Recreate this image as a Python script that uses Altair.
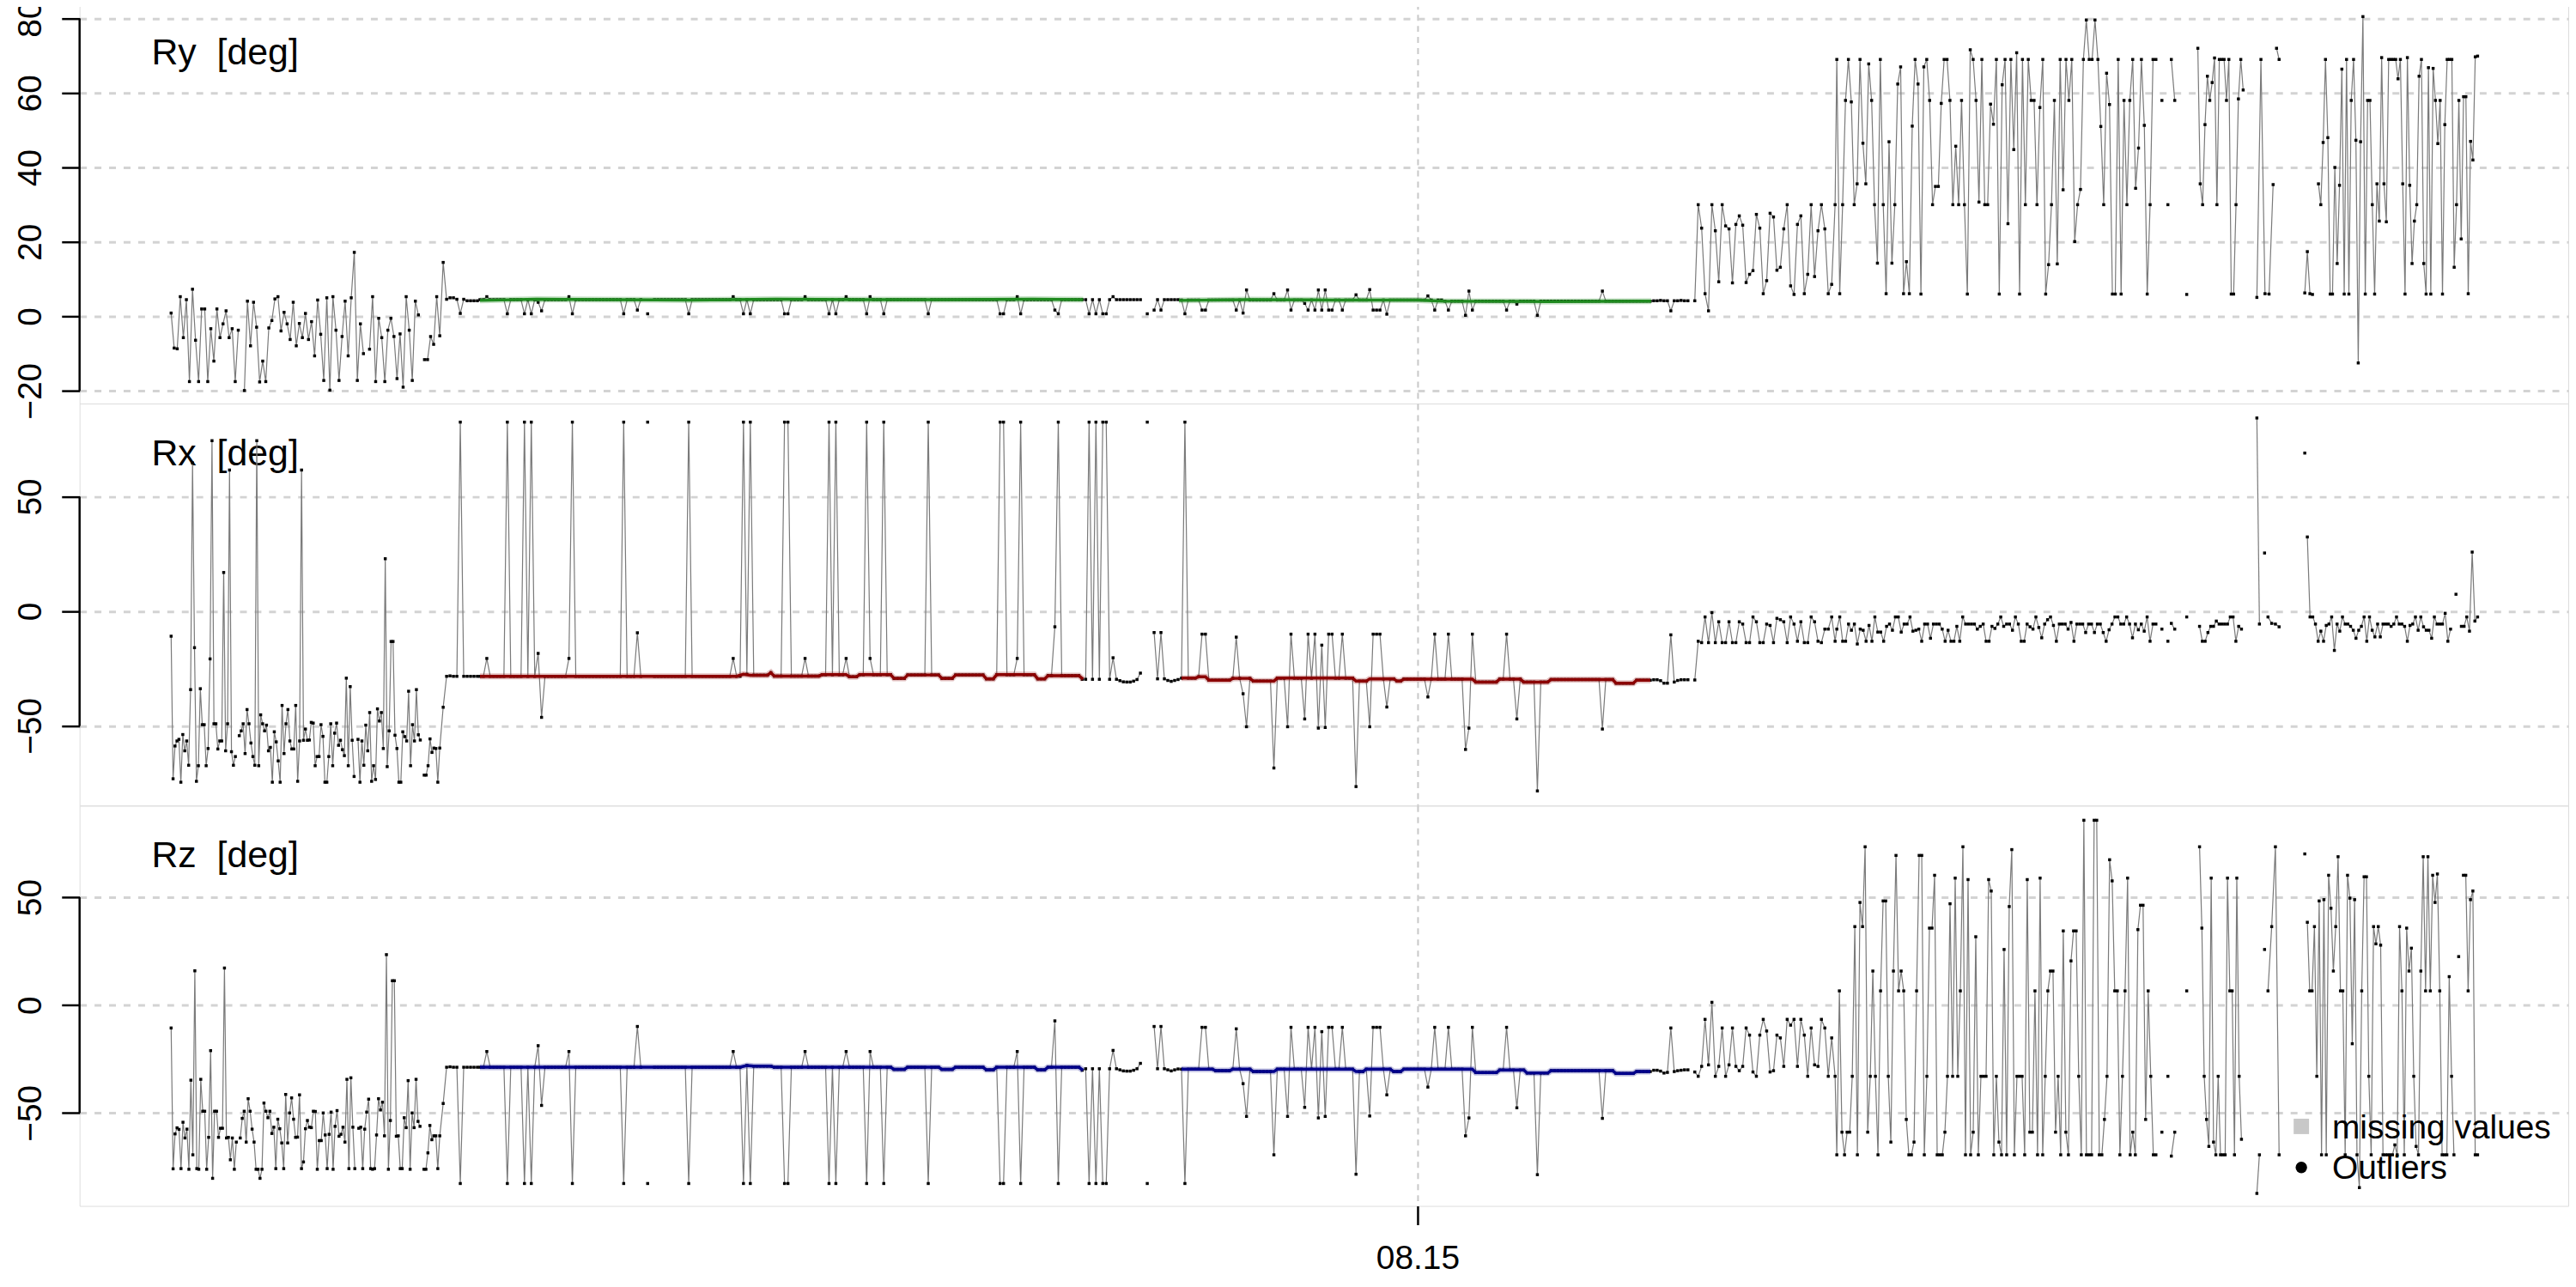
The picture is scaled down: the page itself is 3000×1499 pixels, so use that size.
import altair as alt
import pandas as pd

FONT = "Liberation Sans"
# time axis: seconds relative to 08:15:00
X_DOMAIN = [-1564, 1345]
X_TICKS = [0]
X_TICK_LABEL = "08.15"

PANEL_LABELS = ["Ry\u00a0\u00a0[deg]", "Rx\u00a0\u00a0[deg]", "Rz\u00a0\u00a0[deg]"]
LEGEND_LABELS = ["missing values", "Outliers"]

RY_TICKS = [-20, 0, 20, 40, 60, 80]
RX_TICKS = [-50, 0, 50]
RZ_TICKS = [-50, 0, 50]

BREAK = (0, 0, [None])

# ---------------- Ry ----------------
RY_A = [0.9, -8.5, -8.7, 5.3, -5.7, 4.5, -17.5, 7.3, -6.4, -17.5, 2, 2, -17.5, -3.3, -12, 2, -5.7, -2, 1.5, -5.7,
        -3.3, -17.5, -3.7, None, -19.9, 4.1, -7.9, 3.8, -2.9, -17.6, -12, -17.5, -3.1, -1.1, 4.7, 5.3, -3.9, 1.1, -2, -6.2,
        3.8, -7.9, -1.9, -5.7, 0.8, -6.2, -1.4, -10.6, 4.4, -4.8, -17.2, 5, -19.8, 5.3, -3.7, -17.2, -5.4, 4.1, -10.6, 5,
        17.2, -17.2, -2, -10, None, -8.8, 5.3, -17.5, -0.5, -5.7, -17.5, -3.7, -0.5, -5.4, -16.7, -4.7, -19, 5.3, -3.7, -17.2,
        4.1, 0.4, None, -11.6, -11.6, -5.4, -7.5, 5.3, -5.2]
RY_T = [14.5, 4.6, 5, 5, 4.6, 0.8, 4.6, 4.2, 4.2, 4.2, 4.2]
RY_B = [4.5, 4.5, 5.3, 4.5, 4.5, 4.5, 4.5, 4.5, 0.7, 4.5,
        4.5, 4.5, 4.5, 0.7, 4.5, 0.7, 4.5, 3.8, 1.5, 4.5,
        4.5, 4.5, 4.5, 4.5, 4.5, 4.5, 5.3, 0.7, 4.5, 4.5,
        4.5, 4.5, 4.5, 4.5, 4.5, 4.5, 4.5, 4.5, 4.5, 4.5,
        4.5, 4.5, 0.7, 4.5, 4.5, 4.5, 1.7, 4.5, None, 0.7,
        None, 4.5, 4.5, 4.5, 4.5, 4.5, 4.5, 4.5, 4.5, 4.5,
        4.5, 0.7, 4.5, 4.5, 4.5, 4.5, 4.5, 4.5, 4.5, 4.5,
        4.5, 4.5, 4.5, 4.5, 5.3, 4.5, 4.5, 0.7, 4.5, 0.7,
        4.5, 4.5, 4.5, 4.5, 4.5, 4.5, 4.5, 4.5, 4.5, 0.7,
        0.7, 4.5, 4.5, 4.5, 4.5, 5.3, 4.5, 4.5, 4.5, 4.5,
        4.5, 4.5, 0.7, 4.5, 0.7, 4.5, 4.5, 5.3, 4.5, 4.5,
        4.5, 4.5, 4.5, 0.7, 5.3, 4.5, 4.5, 4.5, 0.7, 4.5,
        4.5, 4.5, 4.5, 4.5, 4.5, 4.5, 4.5, 4.5, 4.5, 4.5,
        4.5, 0.7, 4.5, 4.5, 4.5, 4.5, 4.5, 4.5, 4.5, 4.5,
        4.5, 4.5, 4.5, 4.5, 4.5, 4.5, 4.5, 4.5, 4.5, 4.5,
        4.5, 4.5, 0.7, 0.7, 4.5, 4.5, 4.5, 5.3, 0.7, 4.5,
        4.5, 4.5, 4.5, 4.5, 4.5, 4.5, 4.5, 4.5, 1.7, 0.7,
        4.5, 4.5, 4.5, 4.5, 4.5, 4.5, 4.5]
RY_B2 = [4.5, 0.7, 4.5, 0.7, 4.5, 0.7, 0.7, 4.5, 5.3, 4.5, 4.5, 4.5, 4.5, 4.5, 4.5, 4.5, 4.5, None, 0.7, None,
         1.7, 4.5, 1.7, 4.5, 4.5, 4.5, 4.5, 4.5]
RY_C = [4.4, 0.7, 4.4, 4.4, 4.4, 4.4, 1.7, 1.7, 4.4, 4.4,
        4.4, 4.4, 4.4, 4.4, 4.4, 4.4, 1.7, 4.4, 0.9, 7.1,
        4.4, 4.4, 4.4, 4.4, 4.4, 4.4, 4.4, 6.1, 4.4, 4.4,
        4.4, 7.1, 1.7, 4.4, 4.4, 4.4, 3.5, 1.7, 4.4, 1.7,
        7.1, 1.7, 7.1, 1.7, 1.7, 4.4, 4.4, 1.7, 4.4, 4.4,
        4.4, 5.8, 4.4, 4.4, 4.4, 7.2, 1.7, 1.7, 1.7, 4.4,
        0.6, 4.4, 4.4, 4.4, 4.4, 4.4, 4.4, 4.4, 4.4, 4.4,
        4.4, 4.4, 5.5, 4.4, 1.7, 4.4, 4.4, 4.1, 1.7, 4.1,
        4.1, 4.1, 4.1, 0.3, 6.8, 1.7, 4.1, 4.1, 4.1, 4.1,
        4.1, 4.1, 4.1, 4.1, 4.1, 1.7, 4.1, 4.1, 3.3, 4.1,
        4.1, 4.1, 4.1, 4.1, 0.3, 4.1, 4.1, 4.1, 4.1, 4.1,
        4.1, 4.1, 4.1, 4.1, 4.1, 4.1, 4.1, 4.1, 4.1, 4.1,
        4.1, 4.1, 4.1, 6.8, 4.1, 4.1, 4.1, 4.1, 4.1, 4.1,
        4.1, 4.1, 4.1, 4.1, 4.1, 4.1, 4.1, 4.1]
RY_C2 = [4.2, 4.2, 4.3, 4.2, 4.2, 1.5, 4.2, 4.2, 4.3, 4.2, 4.2, None, 4.2]
RY_D = [30, 23.7, 6.1, 1.5, 30, 23, 9.3, 30, 24.3, 23.5, 9, 24.7, 27, 24.5, 9.1, 11.3, 12.3, 27.4, 23.7, 6.1,
        9.6, 27.7, 26.7, 12.4, 13.2, 23.5, 30, 8.2, 5.9, 24.7, 27, 6.1, 11.3, 30, 10.7, 23, 30, 23.5, 6.1, 8.6, 30]
RY_E1 = [69, 6.1, 30, 58, 69, 57.6, 30, 35.6, 69, 46.5, 35.6, 67.8, 58, 30, 14.3, 69, 30, 6.1, 46.9, 14.3,
         30, 62.4, 67, 6.1, 14.7, 6.1, 51.1, 69, 62.4, 6, 67, 69, 58, 30, 34.9, 34.9, 57.2, 69, 69, 58,
         30, 45.7, 30, 58, 30, 6, 71.6, 69, 58, 30.7, 69, 30, 30, 57, 51.6, 69, 6, 62.2, 69, 24.9,
         69, 44.8, 70.8, 6, 69, 30, 69, 58, 58, 30, 56.1, 69, 6, 13.9, 30, 58, 14.1, 69, 34, 69,
         58, 69, 20.1, 30, 34.1, 69, 79.6, 69, 69, 79.6, 69, 51, 30, 65.3, 56.9, 6, 6, 69, 6, 58,
         30, 58, 69, 34.4, 45.2, 69, 51.3, 6, 30, 69, 69]
RY_E2 = [72, 35.6, 30, 51.5, 64.5, 58, 62.8, 69.4, 30, 69, 69, 69, 58, 69, 6, 6, 30, 58.4, 69, 60.8]
RY_E2B = [5.1, 69, 6.1, 6, 35.4]
RY_E2C = [72, 69]
RY_E3A = [6.3, 17.4, 6.1, 5.9]
RY_E3 = [35.6, 30, 46.7, 69, 48, 6, 6, 40, 14.2, 35.2, 66.4, 6, 69, 6, 58, 69, 47.3, -12.5, 46.9, 80.5,
         6, 58, 58, 30, 6, 35.6, 25.6, 69.5, 35.6, 25.4, 69, 69, 69, 69, 63.8, 69, 35.6, 6, 69.5, 35.2,
         14.2, 25.6, 30, 64.5, 69, 14.2, 6, 66.8, 6, 66.6, 58, 46.4, 58, 6, 51.5, 69, 69, 69, 13.2, 30,
         58, 20.8, 59, 59, 6.1, 47, 42, 69.7, 69.9]

RY_SEGMENTS = [
    (-1457, -1143, RY_A), (-1139, -1099, RY_T), (-1096, -392, RY_B), (-388, -280, RY_B2),
    (-276, 272, RY_C), (276, 324, RY_C2), (328, 488, RY_D), (490, 863, RY_E1), BREAK,
    (870, 870, [58]), BREAK, (877, 877, [30]), BREAK, (881, 885, [69, 58]), BREAK, (899, 899, [5.9]), BREAK,
    (912, 965, RY_E2), BREAK, (981, 1000, RY_E2B), BREAK, (1004, 1007, RY_E2C), BREAK,
    (1037, 1046, RY_E3A), BREAK, (1053, 1239, RY_E3),
]

# ---------------- Rx ----------------
RX_A = [-10.9, -73.1, -58.8, -56.6, -55.9, -74.6, -53.8, -60.9, -56.6, -67.2, -34.2, 64.7, -15.9, -74.2, -67.4, -33.8,
        -49.5, -49.5, -67.4, -59.9, -20.8, 74.4, -49.1, -49.1, -60.1, -56.6, -56.6, 16.9, -60.9, -49.1, 61.6, -61.3,
        -67.2, -63.4, None, -54.3, -52.2, -49.1, -62.1, -42.9, -49.1, -57.5, -63.4, -67.2, 74.4, -67.4, -45.2, -49.1,
        -52.2, -49.7, -60.9, -59.4, -74.6, -52.6, -57, -65.3, -74.6, -41.1, -62.1, -49.1, -42.9, -56.6, -60.1, -60.1,
        -41.1, -74.2, -56.6, 61.6, -56.3, -51.4, -56.3, -56.2, -48.5, -48.8, -67.4, -63.4, -63.4, -49.5, -54.6, -74.6,
        -74.6, -63.4, -49.1, -67.4, -53.2, -48.8, -58.5, -56.3, -60.4, -63, -29.2, -67.4, -32.9, -56.3, -72.1, None,
        -55.9, -74.6, -56.6, -67.2, -49.7, -60.9, -44.2, -74.2, -67.4, -73.4, -42.6, -47.9, -44.2, -59.9, 22.9, -67.8,
        -52.2, -13.2, -13.2, -54.1, -59.9, -74.6, -74.6, -52.6, -54.7, -56.6, -34.9, -67.4, -49.5, -56.6, -34.2, -53.9,
        -56.2, None, -71.5, -71.5, -67.4, -55.7, -61.6, -59.7, -59.9, -74.6, -59.7]
RX_T = [-41.9, -28.4, -28.2, -28.4, -28.4, 82.5, -28.4, -28.4, -28.4, -28.4, -28.4]
RX_B = [-28.4, -28.4, -20.6, -28.4, -28.4, -28.4, -28.4, -28.4, 82.5, -28.4,
        -28.4, -28.4, -28.4, 82.5, -28.4, 82.5, -28.4, -18.4, -46.3, -28.4,
        -28.4, -28.4, -28.4, -28.4, -28.4, -28.4, -20.6, 82.5, -28.4, -28.4,
        -28.4, -28.4, -28.4, -28.4, -28.4, -28.4, -28.4, -28.4, -28.4, -28.4,
        -28.4, -28.4, 82.5, -28.4, -28.4, -28.4, -9.4, -28.4, None, 82.5,
        None, -28.4, -28.4, -28.4, -28.4, -28.4, -28.4, -28.4, -28.4, -28.4,
        -28.4, 82.5, -28.4, -28.4, -28.4, -28.4, -28.4, -28.4, -28.4, -28.4,
        -28.4, -28.4, -28.4, -28.4, -20.6, -28.4, -28.4, 82.5, -27.5, 82.5,
        -27.9, -27.9, -27.9, -27.9, -27.9, -26.8, -28.3, -28.3, -28.3, 82.5,
        82.5, -28.3, -28.3, -28.3, -28.3, -20.6, -28.3, -28.3, -28.3, -28.3,
        -27.7, -27.7, 82.5, -27.7, 82.5, -27.7, -27.7, -20.6, -28.6, -28.6,
        -28.6, -27.7, -27.7, 82.5, -20.6, -27.7, -27.7, -27.7, 82.5, -27.7,
        -27.7, -29.3, -29.3, -29.3, -29.3, -27.8, -27.8, -27.8, -27.8, -27.8,
        -27.8, 82.5, -27.8, -27.8, -27.8, -29.3, -29.3, -29.3, -29.3, -27.8,
        -27.8, -27.8, -27.8, -27.8, -27.8, -27.8, -27.8, -27.8, -29.5, -29.5,
        -29.5, -27.7, 82.5, 82.5, -27.7, -27.7, -27.7, -20.6, 82.5, -27.7,
        -27.7, -27.7, -27.7, -29.5, -29.5, -29.5, -28.1, -28.1, -6.8, 82.5,
        -28.1, -28.1, -28.1, -28.1, -28.1, -28.1, -29.7]
RX_B2 = [-29.7, 82.5, -29.7, 82.5, -29.7, 82.5, 82.5, -29.7, -20.3, -29.7, -30.3, -30.8, -30.9, -30.9, -30.5, -29.8,
         -27, None, 82.5, None, -9.3, -29.5, -9.3, -29.5, -30.2, -30.6, -30.2, -29.8]
RX_C = [-29.2, 82.5, -29.2, -29.2, -29.2, -28.6, -10, -10, -30.1, -30.1,
        -30.1, -30.1, -30.1, -30.1, -30.1, -29.3, -11.3, -29.3, -36, -50.4,
        -29.3, -30.5, -30.5, -30.5, -30.5, -30.5, -30.5, -68.4, -29.2, -29.2,
        -29.2, -50.4, -10, -29.2, -29.2, -29.2, -47, -10, -29.2, -10,
        -51, -14.8, -50.7, -10, -10, -29.2, -29.2, -10, -29.2, -29.2,
        -29.2, -76.5, -30.5, -30.5, -30.5, -50.4, -10, -10, -10, -29.5,
        -41.8, -29.5, -29.5, -30.5, -30.5, -29.6, -29.6, -29.6, -29.6, -29.6,
        -29.6, -29.6, -37.4, -29.6, -10, -29.6, -29.6, -29.6, -10, -29.6,
        -29.6, -29.6, -29.6, -60.3, -51, -10, -30.9, -30.9, -30.9, -30.9,
        -30.9, -30.9, -30.9, -29.6, -29.6, -10, -29.6, -29.6, -47, -29.6,
        -30.9, -30.9, -30.9, -30.9, -78.4, -30.9, -30.9, -30.9, -29.8, -29.8,
        -29.8, -29.8, -29.8, -29.8, -29.8, -29.8, -29.8, -29.8, -29.8, -29.8,
        -29.8, -29.8, -29.8, -51.4, -29.8, -29.8, -29.8, -31.4, -31.4, -31.4,
        -31.4, -31.4, -31.4, -30.1, -30.1, -30.1, -30.1, -30.1]
RX_C2 = [-29.9, -29.9, -30.3, -31.4, -31.4, -10.3, -30.9, -30.2, -29.9, -29.9, -29.9, None, -30]
RX_D = [-13.1, -13.7, -2.5, -13.7, -0.6, -13.7, -4.6, -13.7, -13.7, -4.6, -13.7, -13.7, -4.6, -5.6, -13.7, -13.7,
        -2.5, -4.6, -13.7, -13.7, -5.6, -6.2, -13.7, -3.1, -3.7, -4.6, -13.7, -2.5, -5.6, -13.1, -4.6, -13.7,
        -13.7, -2.5, -4.6, -13.1, -13.7, -7.8, -7.8, -2.5, -13.1]
RX_E1 = [-7.8, -2.5, -13.1, -13.1, -5.6, -8.3, -5.6, -14.3, -7.8, -8.3, -13.1, -6.2, -13.1, -2.5, -9.1, -9.1,
         -13.1, -6.6, -5.6, -8.3, -2.5, -2.5, -9.1, -5.6, -5.6, -2.5, -8.7, -8.3, -7.8, -13.1, -5.6, -5.6,
         -11.8, -5.6, -5.6, -5.6, -7.8, -13.1, -8.3, -13.1, -13.1, -6.6, -13.1, -2.5, -5.6, -5.6, -5.6, -5.6,
         -7.8, -6.6, -5.6, -13.1, -13.1, -6.6, -7.5, -5.6, -2.5, -6.6, -5.6, -5.6, -8.3, -2.5, -5.6, -13.1,
         -13.1, -5.6, -6.8, -7.8, -2.5, -7.1, -11.6, -5.6, -3.7, -2.5, -6.2, -13.1, -5.6, -5.6, -5.6, -7.8,
         -4.9, -13.1, -5.6, -5.6, -5.6, -9.3, -5.6, -5.6, -9.3, -5.6, -5.6, -9.3, -13.1, -8.1, -5.6, -2.5,
         -2.5, -5.6, -5.6, -2.5, -5.6, -11.6, -5.6, -8.1, -5.6, -8.7, -2.5, -13.1, -5.6, -5.6]
RX_E2 = [-6.6, -13.1, -13.1, -9.3, -6.6, -6.6, -4.3, -5.6, -5.6, -5.6, -5.6, -2.5, -2.5, -13.1, -6.6, -7.8]
RX_E2B = [84.3, -5.6]
RX_E2C = [-2.5, -5.3, -5.6, -6.8]
RX_E3 = [32.4, -2.5, -2.5, -5.6, -13.1, -8.7, -13.1, -6.2, -5.6, -2.5, -17.1, -5.6, -8.7, -2.5, -5.6, -5.6,
         -6.6, -8.3, -11.8, -8.3, -6.6, -2.5, -13.1, -2.5, -8.3, -11.2, -5.6, -11.2, -5.6, -5.6, -5.6, -6.6,
         -5.6, -2.5, -5.6, -5.6, -6.6, -13.1, -6.2, -5.6, -2.5, -8.3, -2.5, -6.8, -8.3, -8.3, -11.8, -2.5,
         -5.6, -5.6, -5.6, -0.9, -13.1, -7.8, None, 7.4, None, -6.6, -6.6, -2.5, -8.7, 25.8, -4.3, -2.5]

RX_SEGMENTS = [
    (-1457, -1143, RX_A), (-1139, -1099, RX_T), (-1096, -392, RX_B), (-388, -280, RX_B2),
    (-276, 272, RX_C), (276, 324, RX_C2), (328, 488, RX_D), (490, 863, RX_E1), BREAK,
    (870, 870, [-7.8]), BREAK, (877, 877, [-13.1]), BREAK, (881, 885, [-5.3, -7.8]), BREAK, (899, 899, [-2.5]), BREAK,
    (914, 963, RX_E2), BREAK, (981, 984, RX_E2B), BREAK, (990, 990, [25.4]), BREAK, (994, 1007, RX_E2C), BREAK,
    (1037, 1037, [69]), BREAK, (1040, 1239, RX_E3),
]

# ---------------- Rz ----------------
RZ_A = [-10.6, -75.9, -59.7, -56.9, -57.6, -75.8, -54.3, -61.6, -57.5, -76.1, -34.8, -69.4, 15.9, -75.8, -76.1, -34.4,
        -49.2, -49.2, -76.1, -61.3, -21.1, -80.3, -49.2, -49.2, -61.3, -57.1, -57.1, 17.2, -61.6, -61.3, -71.7, -61.6,
        -76.1, -63.5, None, -61.6, -52.5, -49.2, -63.5, -43.4, -49.2, -57.5, -63.5, -76.1, -76.1, -80.3, -76.1, -45.4,
        -49.2, -52.2, -49.2, -59.5, -56.6, -75.8, -52.9, -57.3, -63.9, -75.8, -41.4, -63.9, -50, -43, -52.9, -61.3,
        -61.2, -41.6, -75.8, -72.7, -57.3, -53.5, -56.6, -56.8, -49.2, -49.3, -76.1, -62.8, -62.8, -50, -60.2, -75.8,
        -59.9, -49.6, -76.1, -56.2, -48.9, -60.8, -59.9, -56.6, -63.5, -34.4, -75.8, -33.7, -56.6, -75.8, None, -57.1,
        -56.6, -75.8, -57.5, -49.6, -43.6, -75.8, -76.1, -75.8, -60.2, -43.4, -48.6, -45, -60.6, 23.4, -76.1, -53.5,
        11.3, 11.3, -60.8, -60.6, -75.8, -75.8, -52.2, -56.8, -35, -76.1, -50, -56.8, -34.4, -53.9, -56.2, None,
        -76.1, -76.1, -68.5, -55.8, -62.4, -60.6, -60.6, -75.8, -60.6]
RZ_T = [-45.6, -28.8, -28.6, -28.8, -28.8, -82.7, -28.8, -28.8, -28.8, -28.8, -28.8]
RZ_B = [-28.8, -28.8, -21.5, -28.8, -28.8, -28.8, -28.8, -28.8, -82.7, -28.8,
        -28.8, -28.8, -28.8, -82.7, -28.8, -82.7, -28.8, -18.8, -46.5, -28.8,
        -28.8, -28.8, -28.8, -28.8, -28.8, -28.8, -21.5, -82.7, -28.8, -28.8,
        -28.8, -28.8, -28.8, -28.8, -28.8, -28.8, -28.8, -28.8, -28.8, -28.8,
        -28.8, -28.8, -82.7, -28.8, -28.8, -28.8, -9.9, -28.8, None, -82.7,
        None, -28.8, -28.8, -28.8, -28.8, -28.8, -28.8, -28.8, -28.8, -28.8,
        -28.8, -82.7, -28.8, -28.8, -28.8, -28.8, -28.8, -28.8, -28.8, -28.8,
        -28.8, -28.8, -28.8, -28.8, -21.5, -28.8, -28.8, -82.7, -28, -82.7,
        -28.3, -28.3, -28.3, -28.3, -28.3, -28.3, -28.8, -28.8, -28.8, -82.7,
        -82.7, -28.8, -28.8, -28.8, -28.8, -21.5, -28.8, -28.8, -28.8, -28.8,
        -28.8, -28.8, -82.7, -28.8, -82.7, -28.8, -28.8, -21.5, -28.8, -28.8,
        -28.8, -28.8, -28.8, -82.7, -21.5, -28.8, -28.8, -28.8, -82.7, -28.8,
        -28.8, -29.8, -29.8, -29.8, -29.8, -28.8, -28.8, -28.8, -28.8, -28.8,
        -28.8, -82.7, -28.8, -28.8, -28.8, -29.8, -29.8, -29.8, -29.8, -28.8,
        -28.8, -28.8, -28.8, -28.8, -28.8, -28.8, -28.8, -28.8, -30, -30,
        -30, -28.8, -82.7, -82.7, -28.8, -28.8, -28.8, -21.5, -82.7, -28.8,
        -28.8, -28.8, -28.8, -30, -30, -30, -28.8, -28.8, -7.3, -82.7,
        -28.8, -28.8, -28.8, -28.8, -28.8, -28.8, -30.2]
RZ_B2 = [-29.5, -82.7, -29.5, -82.7, -29.5, -82.7, -82.7, -29.5, -21, -29.5, -30, -30.5, -30.6, -30.6, -30.2, -29.5,
         -27, None, -82.7, None, -9.9, -29.5, -9.9, -29.5, -30, -30.5, -30, -29.6]
RZ_C = [-29.7, -82.7, -29.7, -29.7, -29.7, -29.7, -10.3, -10.3, -29.7, -29.7,
        -30.4, -30.4, -30.4, -30.4, -30.4, -29.7, -11, -29.7, -36.4, -51.6,
        -29.7, -30.8, -30.8, -30.8, -30.8, -30.8, -30.8, -69.4, -29.7, -29.7,
        -29.7, -51.6, -10.3, -29.7, -29.7, -29.7, -47.4, -10.3, -29.7, -10.3,
        -52.3, -12.3, -51.6, -10.3, -10.3, -29.7, -29.7, -10.3, -29.7, -29.7,
        -29.7, -78.4, -30.8, -30.8, -29.7, -51.4, -10.3, -10.3, -10.3, -29.7,
        -41.6, -29.7, -30.8, -30.8, -30.8, -29.7, -29.7, -29.7, -29.7, -29.7,
        -29.7, -29.7, -38, -29.7, -10.3, -29.7, -29.7, -29.7, -10.3, -29.7,
        -29.7, -29.7, -29.7, -60.6, -52.3, -10.3, -31.3, -31.3, -31.3, -31.3,
        -31.3, -31.3, -31.3, -30.1, -30.1, -10.3, -30.1, -30.1, -47.6, -30.1,
        -30.1, -31.5, -31.5, -31.5, -78.6, -31.5, -31.5, -31.5, -30.4, -30.4,
        -30.4, -30.4, -30.4, -30.4, -30.4, -30.4, -30.4, -30.4, -30.4, -30.4,
        -30.4, -30.4, -30.4, -52.5, -30.4, -30.4, -30.4, -31.7, -31.7, -31.7,
        -31.7, -31.7, -31.7, -30.8, -30.8, -30.8, -30.8, -30.8]
RZ_C2 = [-30.2, -30.2, -30.6, -31.5, -31.2, -10.6, -30.8, -30.4, -30.2, -30, -30, None, -31]
RZ_D = [-33, -28.4, -6.6, -27.7, 1.3, -33, -28.4, -10.6, -33, -27.7, -10.6, -28.4, -30.4, -28.4, -10.6, -13.9,
        -31, -33, -13.9, -6.6, -12, -31, -30.4, -13.9, -15.2, -28.4, -6.6, -9.3, -6.6, -28.4, -6.6, -13.9,
        -33, -10.6, -27.7, -28.4, -6.6, -10.6, -33, -15.2, -33]
RZ_E1 = [-69.4, 6.6, -58.9, -69.4, -58.9, -58.9, -33, 36.4, -69.4, 47.6, 36.4, 73.4, -58.9, -33, 15.8, -33,
         -69.4, 6.6, 48.3, 48.3, -33, -63.5, 15.8, 69.4, 6.6, 15.8, 6.6, -53, -69.4, -69.4, -63.5, 6.6,
         69.4, 69.4, -69.4, -33, 35.7, 35.7, 60.2, -69.4, -69.4, -69.4, -58.9, -33, 47, -33, 58.9, -33,
         6.6, 73.4, -69.4, 58.2, -69.4, -58.9, 31.7, -69.4, -33, -33, -33, 58.2, 52.9, -69.4, -33, -63.5,
         -69.4, 25.8, -69.4, 45.7, 72.1, -69.4, -33, -33, -33, -69.4, 58.2, -58.9, -58.9, 6.6, -69.4, 58.9,
         -69.4, -33, 6.6, 15.8, 15.8, -58.9, -33, -69.4, 34.4, -58.9, -69.4, 20.5, 34.4, 34.4, -33, -69.4,
         85.7, -69.4, -69.4, -69.4, 85.7, 85.7, -69.4, -69.4, -53, -33, 67.4, 57.6, 6.6, 6.6, -69.4, -33,
         6.6, 58.9, -69.4, -58.9, -69.4, 35, 46.3, 46.3, -53, 6.6, -33, -69.4, -69.4]
RZ_E2 = [73.4, 35.7, -33, -53, -65.5, 58.9, -63.5, -69.4, -33, -69.4, -69.4, -69.4, 58.9, 6.6, 6.6, -69.4,
         58.9, -33, -62.2]
RZ_E2B = [-87.3, -69.4]
RZ_E2C = [6.6, 36.4, 73.4, -69.4]
RZ_E3 = [38.4, 6.6, 6.6, 36.4, -33, 48.3, -69.4, 48.9, -69.4, 60.2, 44.9, 15.8, 36.4, 68.8, 6.6, 6.6,
         -69.4, 60.2, 49.6, -17.9, 48.9, -69.4, -84.6, 6.6, 59.5, 59.5, -33, -69.4, 36.4, 28.4, 36.4, 27.8,
         -69.4, -69.4, -69.4, -69.4, -69.4, -64.8, -69.4, 36.4, 6.6, -69.4, 35.7, 15.8, 26.4, -33, -65.5, -69.4,
         15.8, 68.8, 6.6, 68.8, 6.6, 60.2, 47.6, 60.8, 6.6, -69.4, -69.4, -69.4, 13.2, -33, -69.4, None,
         22.5, None, 60.2, 60.2, 6.6, 48.9, 52.9, -69.4, -69.4]

RZ_SEGMENTS = [
    (-1457, -1143, RZ_A), (-1139, -1099, RZ_T), (-1096, -392, RZ_B), (-388, -280, RZ_B2),
    (-276, 272, RZ_C), (276, 324, RZ_C2), (328, 488, RZ_D), (490, 863, RZ_E1), BREAK,
    (870, 870, [-58.9]), BREAK, (877, 877, [-33]), BREAK, (881, 885, [-70, -58.9]), BREAK, (899, 899, [6.6]), BREAK,
    (914, 963, RZ_E2), BREAK, (981, 984, RZ_E2B), BREAK, (990, 990, [25.8]), BREAK, (994, 1007, RZ_E2C), BREAK,
    (1037, 1037, [70.1]), BREAK, (1040, 1239, RZ_E3),
]

# ---------------- filtered (coloured) lines: knot times and values ----------------
GREEN_T = [-1096, -1030, -950, -850, -750, -650, -550, -450, -391, None,
           -279, -200, -100, 0, 30, 150, 273]
GREEN_V = [4.3, 4.6, 4.5, 4.4, 4.6, 4.5, 4.5, 4.6, 4.5, None,
           4.3, 4.5, 4.4, 4.4, 4.1, 4.0, 4.1]
RED_T = [-1096, -796, -788, -780, -760, -756, -752, -700, -696, -668, -664, -656, -652, -616, -612, -600, -596,
         -560, -556, -544, -540, -508, -504, -496, -492, -448, -444, -436, -432, -396, -391, None,
         -276, -260, -256, -248, -244, -220, -216, -196, -192, -168, -164, -76, -72, -60, -56, -28, -24, -20, -16,
         64, 68, 92, 96, 120, 124, 152, 156, 228, 232, 252, 256, 272]
RED_V = [-28.4, -28.4, -27.5, -27.9, -27.9, -26.8, -28.3, -28.3, -27.7, -27.7, -28.6, -28.6, -27.7, -27.7, -29.3,
         -29.3, -27.8, -27.8, -29.3, -29.3, -27.8, -27.8, -29.5, -29.5, -27.7, -27.7, -29.5, -29.5, -28.1, -28.1,
         -29.7, None,
         -29.2, -29.2, -28.6, -28.6, -30.1, -30.1, -29.3, -29.3, -30.5, -30.5, -29.2, -29.2, -30.5, -30.5, -29.5,
         -29.5, -30.5, -30.5, -29.6, -29.6, -30.9, -30.9, -29.6, -29.6, -30.9, -30.9, -29.8, -29.8, -31.4, -31.4,
         -30.1, -30.1]
BLUE_T = [-1096, -792, -784, -776, -756, -752, -616, -612, -600, -596, -560, -556, -544, -540, -508, -504, -496,
          -492, -448, -444, -436, -432, -396, -391, None,
          -276, -240, -236, -220, -216, -196, -192, -168, -164, -76, -72, -64, -60, -32, -28, -20, -16, 64, 68,
          92, 96, 124, 128, 152, 156, 228, 232, 252, 256, 272]
BLUE_V = [-28.8, -28.8, -28, -28.3, -28.3, -28.8, -28.8, -29.8, -29.8, -28.8, -28.8, -29.8, -29.8, -28.8, -28.8,
          -30, -30, -28.8, -28.8, -30, -30, -28.8, -28.8, -30.2, None,
          -29.7, -29.7, -30.4, -30.4, -29.7, -29.7, -30.8, -30.8, -29.7, -29.7, -30.8, -30.8, -29.7, -29.7, -30.8,
          -30.8, -29.7, -29.7, -31.3, -31.3, -30.1, -30.1, -31.5, -31.5, -30.4, -30.4, -31.7, -31.7, -30.8, -30.8]


def build_raw(segments):
    rows, seg = [], 0
    for start, end, vals in segments:
        n = len(vals)
        for i, v in enumerate(vals):
            t = start if n == 1 else start + (end - start) * i / (n - 1)
            if v is None:
                seg += 1
                continue
            rows.append({"t": t, "v": v, "seg": seg})
    return pd.DataFrame(rows)


def build_knots(ts, vs):
    rows, seg = [], 0
    for t, v in zip(ts, vs):
        if t is None or v is None:
            seg += 1
            continue
        rows.append({"t": t, "v": v, "seg": seg})
    return pd.DataFrame(rows)


GRID_COLOR = "#d3d3d3"
X_SCALE = alt.Scale(domain=X_DOMAIN, nice=False, zero=False)


def panel(raw_df, knot_df, color, label, domain, ticks, height, bottom=False, legend=False):
    y_axis = alt.Axis(values=ticks, grid=True, gridColor=GRID_COLOR, gridDash=[8, 9], gridWidth=3,
                      domain=False, tickColor="black", tickSize=21, tickWidth=2.5,
                      labelAngle=270, labelAlign="center", labelBaseline="alphabetic", labelPadding=24,
                      labelFont=FONT, labelFontSize=39, labelColor="black", labelFlush=False,
                      labelOverlap=False, title=None, minExtent=82, maxExtent=82)
    if bottom:
        x_axis = alt.Axis(values=X_TICKS, labelExpr=f"datum.value == 0 ? '{X_TICK_LABEL}' : ''",
                          grid=True, gridColor="#c8c8c8", gridDash=[7, 6], gridWidth=2,
                          domain=False, tickColor="black", tickSize=22, tickWidth=2.5,
                          labelFont=FONT, labelFontSize=39, labelColor="black", labelPadding=51,
                          labelBaseline="alphabetic", labelFlush=False, title=None)
    else:
        x_axis = alt.Axis(values=X_TICKS, grid=True, gridColor="#c8c8c8", gridDash=[7, 6], gridWidth=2,
                          domain=False, ticks=False, labels=False, title=None)
    y_scale = alt.Scale(domain=domain, nice=False, zero=False)
    x = alt.X("t:Q", scale=X_SCALE, axis=x_axis)
    y = alt.Y("v:Q", scale=y_scale, axis=y_axis)

    raw_line = alt.Chart(raw_df).mark_line(color="#7a7a7a", strokeWidth=1.2).encode(x=x, y=y, detail="seg:N")
    pts = alt.Chart(raw_df).mark_square(size=12, color="black", opacity=1).encode(x=x, y=y)
    halo = alt.Chart(knot_df).mark_line(color=color, strokeWidth=7, opacity=0.25).encode(x=x, y=y, detail="seg:N")
    col = alt.Chart(knot_df).mark_line(color=color, strokeWidth=3.5).encode(x=x, y=y, detail="seg:N")
    axis_line = alt.Chart(pd.DataFrame({"a": [0]})).mark_rule(color="black", strokeWidth=2.5).encode(
        x=alt.value(0), y=alt.datum(ticks[0]), y2=alt.datum(ticks[-1]))
    lab = alt.Chart(pd.DataFrame({"label": [label]})).mark_text(
        font=FONT, fontSize=43, align="left", baseline="alphabetic", color="black").encode(
        x=alt.value(84), y=alt.value(72), text="label:N")
    layers = [lab, raw_line, pts, halo, col, axis_line]
    if legend:
        one = pd.DataFrame({"a": [0]})
        sq = alt.Chart(one).mark_square(size=324, color="#c8c8c8", opacity=1).encode(
            x=alt.value(2597), y=alt.value(375))
        dot = alt.Chart(one).mark_circle(size=180, color="black", opacity=1).encode(
            x=alt.value(2597), y=alt.value(423))
        leg_df = pd.DataFrame({"label": LEGEND_LABELS})
        txt1 = alt.Chart(leg_df.iloc[[0]]).mark_text(font=FONT, fontSize=39, align="left",
                                                     baseline="alphabetic", color="black").encode(
            x=alt.value(2633), y=alt.value(389), text="label:N")
        txt2 = alt.Chart(leg_df.iloc[[1]]).mark_text(font=FONT, fontSize=39, align="left",
                                                     baseline="alphabetic", color="black").encode(
            x=alt.value(2633), y=alt.value(436), text="label:N")
        layers += [sq, dot, txt1, txt2]
    return alt.layer(*layers).properties(width=2909, height=height)


p1 = panel(build_raw(RY_SEGMENTS), build_knots(GREEN_T, GREEN_V), "#1f8a1f", PANEL_LABELS[0],
           [-23.4, 84.1], RY_TICKS, 468)
p2 = panel(build_raw(RX_SEGMENTS), build_knots(RED_T, RED_V), "#8b0000", PANEL_LABELS[1],
           [-84.8, 90.6], RX_TICKS, 470)
p3 = panel(build_raw(RZ_SEGMENTS), build_knots(BLUE_T, BLUE_V), "#00008b", PANEL_LABELS[2],
           [-93.1, 92.5], RZ_TICKS, 468, bottom=True, legend=True)

chart = alt.vconcat(p1, p2, p3, spacing=0, bounds="flush").properties(
    padding={"left": 2, "top": -12, "right": 0, "bottom": 0}
).configure_view(stroke="#ababab", strokeWidth=2).configure(font=FONT)

chart.save("out.html", embed_options={"renderer": "svg", "actions": False})
